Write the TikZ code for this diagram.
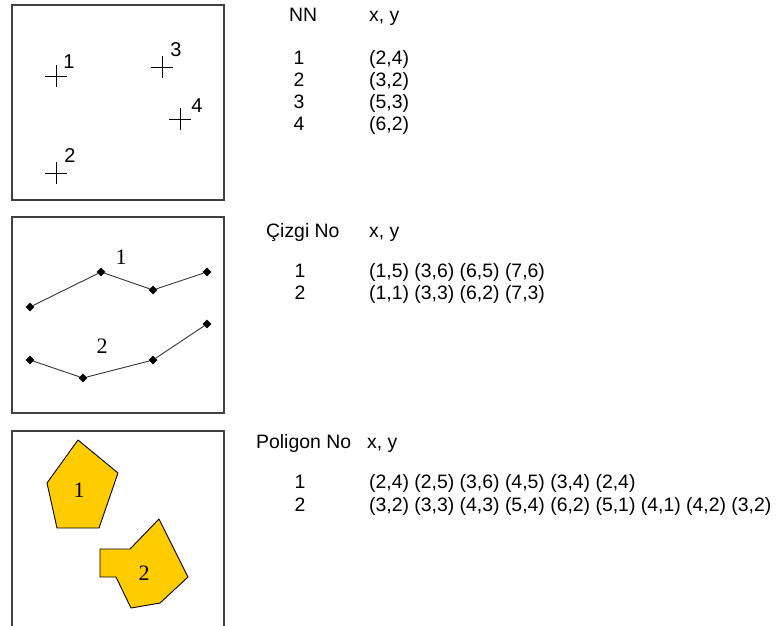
\documentclass[tikz,border=0pt]{standalone}
\usepackage{fontspec}
\setmainfont{Liberation Sans}
\newfontfamily\etiq{Liberation Serif}
\usetikzlibrary{shapes.geometric,shapes.misc}
\definecolor{jaune}{HTML}{FFCC00}
\begin{document}
\begin{tikzpicture}[x=1pt,y=-1pt,
    cadre/.style={draw=black!75,line width=1.4pt},
    pt/.style={draw,cross out,rotate=45,minimum size=14pt,inner sep=0pt,line width=0.9pt},
    sommet/.style={diamond,fill=black,inner sep=0pt,minimum width=9pt,minimum height=9pt},
    txt/.style={inner sep=0pt,anchor=base west,font=\fontsize{19.4}{22}\selectfont},
    num/.style={inner sep=0pt,anchor=base,font=\fontsize{19.4}{22}\selectfont},
    lbl/.style={inner sep=0pt,font=\fontsize{20}{20}\selectfont},
    lbls/.style={inner sep=0pt,font=\etiq\fontsize{22}{22}\selectfont},
    poly/.style={draw=black,fill=jaune,line width=0.9pt,line join=round}]
    \useasboundingbox (0,0) rectangle (776,625);
    % points
    \draw[cadre] (12,5) rectangle (224,200);
    \node[pt] (p1) at (56,76) {};   \node[lbl] (e1) at (69,62) {1};
    \node[pt] (p2) at (56,173) {};  \node[lbl] (e2) at (70,156) {2};
    \node[pt] (p3) at (162,67) {};  \node[lbl] (e3) at (176,50) {3};
    \node[pt] (p4) at (180,119) {}; \node[lbl] (e4) at (197,106) {4};
    \node[txt] (nn) at (289,21) {NN};
    \node[txt] (nnxy) at (369,21) {x, y};
    \foreach \c [count=\i] in {{(2,4)},{(3,2)},{(5,3)},{(6,2)}} {
        \node[num] (n\i) at (299,{42+22*\i}) {\i};
        \node[txt] (c\i) at (369,{42+22*\i}) {\c};
    }
    % cizgiler
    \draw[cadre] (12,217) rectangle (224,413);
    \node[sommet] (a1) at (30,307) {};  \node[sommet] (a2) at (101,272) {};
    \node[sommet] (a3) at (153,290) {}; \node[sommet] (a4) at (207,272) {};
    \node[sommet] (b1) at (30,360) {};  \node[sommet] (b2) at (83,378) {};
    \node[sommet] (b3) at (153,360) {}; \node[sommet] (b4) at (207,324) {};
    \draw[line width=0.9pt,black!80] (a1)--(a2)--(a3)--(a4) (b1)--(b2)--(b3)--(b4);
    \node[lbls] (la) at (121,257) {1};
    \node[lbls] (lb) at (102,346) {2};
    \node[txt] (cz) at (266,237) {Çizgi No};
    \node[txt] (czxy) at (369,237) {x, y};
    \node[num] (cz1) at (300,277) {1}; \node[txt] (czc1) at (369,277) {(1,5) (3,6) (6,5) (7,6)};
    \node[num] (cz2) at (300,299) {2}; \node[txt] (czc2) at (369,299) {(1,1) (3,3) (6,2) (7,3)};
    % poligonlar
    \draw[cadre] (12,640) -- (12,431) -- (224,431) -- (224,640);
    \draw[poly] (78,440) -- (118,473) -- (99,528) -- (57,528) -- (47,483) -- cycle;
    \draw[poly] (100,549) -- (130,549) -- (159,519) -- (188,577) -- (160,603) -- (131,608) -- (116,577) -- (100,577) -- cycle;
    \node[lbls] (lp1) at (79,490) {1};
    \node[lbls] (lp2) at (144,573) {2};
    \node[txt] (pg) at (256,448) {Poligon No};
    \node[txt] (pgxy) at (367,448) {x, y};
    \node[num] (pg1) at (300,488) {1}; \node[txt] (pgc1) at (369,488) {(2,4) (2,5) (3,6) (4,5) (3,4) (2,4)};
    \node[num] (pg2) at (300,511) {2}; \node[txt] (pgc2) at (369,511) {(3,2) (3,3) (4,3) (5,4) (6,2) (5,1) (4,1) (4,2) (3,2)};
\end{tikzpicture}
\end{document}
